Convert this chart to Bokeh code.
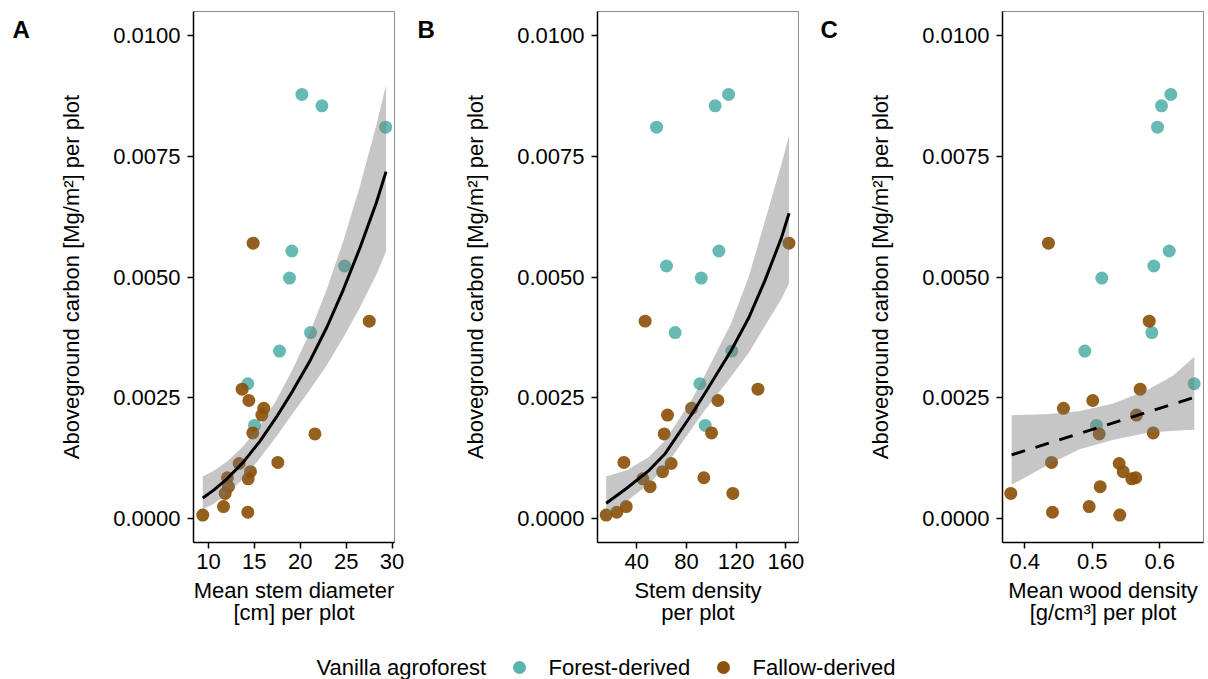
from bokeh.plotting import figure
from bokeh.layouts import column, row
from bokeh.models import (FixedTicker, NumeralTickFormatter, Range1d, ColumnDataSource)
from bokeh.core.properties import value
from bokeh.embed import file_html
from bokeh.resources import INLINE

# ---------------- data ----------------
origin = ["Forest-derived"] * 10 + ["Fallow-derived"] * 18
carbon = [0.008778, 0.008542, 0.008100, 0.005538, 0.004978, 0.005228, 0.003851, 0.003468, 0.002791, 0.001929,
          0.005700, 0.004087, 0.002680, 0.002445, 0.002283, 0.002143, 0.001775, 0.001753, 0.001163, 0.001141,
          0.000972, 0.000825, 0.000847, 0.000663, 0.000523, 0.000250, 0.000133, 0.000074]
stem_diameter = [20.18, 22.36, 29.30, 19.09, 18.83, 24.83, 21.12, 17.74, 14.29, 15.02,
                 14.87, 27.52, 13.67, 14.40, 16.03, 15.82, 14.83, 21.60, 17.56, 13.34,
                 14.58, 14.33, 12.07, 12.18, 11.82, 11.64, 14.29, 9.38]
stem_density = [113.9, 103.1, 56.0, 106.1, 91.9, 64.0, 70.9, 116.5, 90.8, 95.1,
                162.4, 46.8, 137.5, 105.3, 84.1, 64.8, 100.2, 62.1, 29.7, 67.7,
                60.8, 45.0, 94.0, 50.8, 117.3, 31.6, 24.0, 15.5]
wood_density = [0.6163, 0.6025, 0.5966, 0.6139, 0.5141, 0.5911, 0.5881, 0.4889, 0.6509, 0.5062,
                0.4351, 0.5843, 0.5709, 0.5007, 0.4573, 0.5655, 0.5902, 0.5102, 0.4396, 0.5398,
                0.5457, 0.5585, 0.5644, 0.5117, 0.3793, 0.4954, 0.4410, 0.5407]

# fitted curves and confidence bands
fitA_x = [9.38, 10.5, 12.0, 13.8, 15.6, 17.4, 19.2, 21.1, 22.9, 24.7, 26.5, 28.3, 29.35]
fitA_y = [0.000427, 0.00058, 0.00082, 0.00117, 0.00160, 0.00210, 0.00265, 0.00328, 0.00396, 0.00474, 0.00560, 0.00654, 0.00718]
fitA_hi = [0.00087, 0.00098, 0.00118, 0.00150, 0.00192, 0.00245, 0.00310, 0.00388, 0.00475, 0.00575, 0.00688, 0.00815, 0.00897]
fitA_lo = [0.00020, 0.00030, 0.00050, 0.00083, 0.00125, 0.00170, 0.00218, 0.00268, 0.00318, 0.00375, 0.00437, 0.00505, 0.00553]

fitB_x = [15.5, 32, 50, 63, 84, 95, 116, 130, 143, 156.5, 162.5]
fitB_y = [0.00032, 0.00063, 0.00100, 0.00135, 0.00215, 0.00260, 0.00348, 0.00415, 0.00492, 0.00582, 0.00632]
fitB_hi = [0.00087, 0.00100, 0.00128, 0.00162, 0.00245, 0.00298, 0.00405, 0.00500, 0.00615, 0.00735, 0.00793]
fitB_lo = [0.00006, 0.00036, 0.00072, 0.00108, 0.00185, 0.00225, 0.00294, 0.00343, 0.00398, 0.00455, 0.00487]

fitC_x = [0.3805, 0.6511]
fitC_y = [0.00132, 0.00251]
bandC_x = [0.3805, 0.43, 0.48, 0.53, 0.58, 0.62, 0.6511]
bandC_hi = [0.00214, 0.00216, 0.00222, 0.00238, 0.00265, 0.00296, 0.00335]
bandC_lo = [0.00070, 0.00108, 0.00143, 0.00163, 0.00177, 0.00182, 0.00184]

groups = ["Forest-derived", "Fallow-derived"]
group_colors = ["#5ab4ac", "#8c510a"]
legend_title = "Vanilla agroforest"
panel_letters = ["A", "B", "C"]

y_ticks = [0.0, 0.0025, 0.005, 0.0075, 0.01]
ticksA = [10, 15, 20, 25, 30]
ticksB = [40, 80, 120, 160]
ticksC = [0.4, 0.5, 0.6]

FONT = "Liberation Sans"
YLAB = "Aboveground carbon [Mg/m\u00b2] per plot"
cmap = dict(zip(groups, group_colors))
colors = [cmap[g] for g in origin]
H = 628


def letter_fig(width, letter, xpos):
    f = figure(width=width, height=H, x_range=Range1d(0, width), y_range=Range1d(0, H),
               output_backend="svg", toolbar_location=None, min_border=0,
               x_axis_location=None, y_axis_location=None)
    f.outline_line_color = None
    f.xgrid.visible = False
    f.ygrid.visible = False
    f.text(x=[xpos], y=[H - 21], text=[letter], text_font=value(FONT), text_font_size="24px",
           text_font_style="bold", text_baseline="middle", text_align="left", text_color="black")
    return f


def make_panel(width, bl, br, xr, xvals, xticks, xfmt, xlabel):
    p = figure(width=width, height=H, x_range=xr, y_range=(-0.000493, 0.010493),
               output_backend="svg", toolbar_location=None,
               min_border_left=bl, min_border_right=br, min_border_top=11, min_border_bottom=85)
    p.xgrid.visible = False
    p.ygrid.visible = False
    p.outline_line_color = "#8c8c8c"
    p.outline_line_width = 1
    p.background_fill_color = "white"
    p.border_fill_color = "white"
    for ax in (p.xaxis[0], p.yaxis[0]):
        ax.axis_line_color = "black"
        ax.axis_line_width = 1.5
        ax.major_tick_line_color = "black"
        ax.major_tick_line_width = 1.5
        ax.major_tick_out = 6
        ax.major_tick_in = 0
        ax.minor_tick_line_color = None
        ax.major_label_text_font = FONT
        ax.major_label_text_font_size = "22px"
        ax.major_label_text_color = "black"
        ax.axis_label_text_font = FONT
        ax.axis_label_text_font_size = "22px"
        ax.axis_label_text_font_style = "normal"
        ax.axis_label_text_color = "black"
    p.yaxis[0].ticker = FixedTicker(ticks=y_ticks)
    p.yaxis[0].formatter = NumeralTickFormatter(format="0.0000")
    p.yaxis[0].axis_label = YLAB
    p.yaxis[0].major_label_standoff = 7
    p.yaxis[0].axis_label_standoff = 26
    p.xaxis[0].ticker = FixedTicker(ticks=xticks)
    p.xaxis[0].formatter = NumeralTickFormatter(format=xfmt)
    p.xaxis[0].axis_label = xlabel
    p.xaxis[0].major_label_standoff = 5
    p.xaxis[0].axis_label_standoff = 6
    p.xaxis[0].axis_label_text_line_height = 0.9

    src = ColumnDataSource(dict(x=xvals, y=carbon, c=colors))
    p.scatter("x", "y", source=src, size=13, fill_color="c", line_color=None, fill_alpha=0.92)
    return p


pA = make_panel(378, 163, 14, (8.37, 30.27), stem_diameter, ticksA, "0",
                "Mean stem diameter\n[cm] per plot")
pA.varea(x=fitA_x, y1=fitA_lo, y2=fitA_hi, fill_color="#777777", fill_alpha=0.42)
pA.line(fitA_x, fitA_y, line_color="black", line_width=3)

pB = make_panel(373, 157, 15, (8.5, 170.1), stem_density, ticksB, "0",
                "Stem density\nper plot")
pB.varea(x=fitB_x, y1=fitB_lo, y2=fitB_hi, fill_color="#777777", fill_alpha=0.42)
pB.line(fitB_x, fitB_y, line_color="black", line_width=3)

pC = make_panel(360, 157, 2, (0.367, 0.6647), wood_density, ticksC, "0.0",
                "Mean wood density\n[g/cm\u00b3] per plot")
pC.varea(x=bandC_x, y1=bandC_lo, y2=bandC_hi, fill_color="#777777", fill_alpha=0.42)
pC.line(fitC_x, fitC_y, line_color="black", line_width=3, line_dash="14 11")

fA = letter_fig(30, panel_letters[0], 12)
fB = letter_fig(32, panel_letters[1], 9)
fC = letter_fig(32, panel_letters[2], 7)

# legend strip
leg = figure(width=1205, height=51, x_range=Range1d(0, 1205), y_range=Range1d(0, 51),
             output_backend="svg", toolbar_location=None, min_border=0,
             x_axis_location=None, y_axis_location=None)
leg.outline_line_color = None
leg.xgrid.visible = False
leg.ygrid.visible = False
leg.text(x=[316], y=[12], text=[legend_title], text_font=value(FONT), text_font_size="22px",
         text_baseline="middle", text_align="left", text_color="black")
leg.scatter(x=[519, 723], y=[12, 12], size=13, fill_color=group_colors, line_color=None)
leg.text(x=[548, 752], y=[12, 12], text=groups, text_font=value(FONT), text_font_size="22px",
         text_baseline="middle", text_align="left", text_color="black")

layout = column(row(fA, pA, fB, pB, fC, pC, spacing=0), leg, spacing=0)
open("out.html", "w").write(file_html(layout, INLINE))
